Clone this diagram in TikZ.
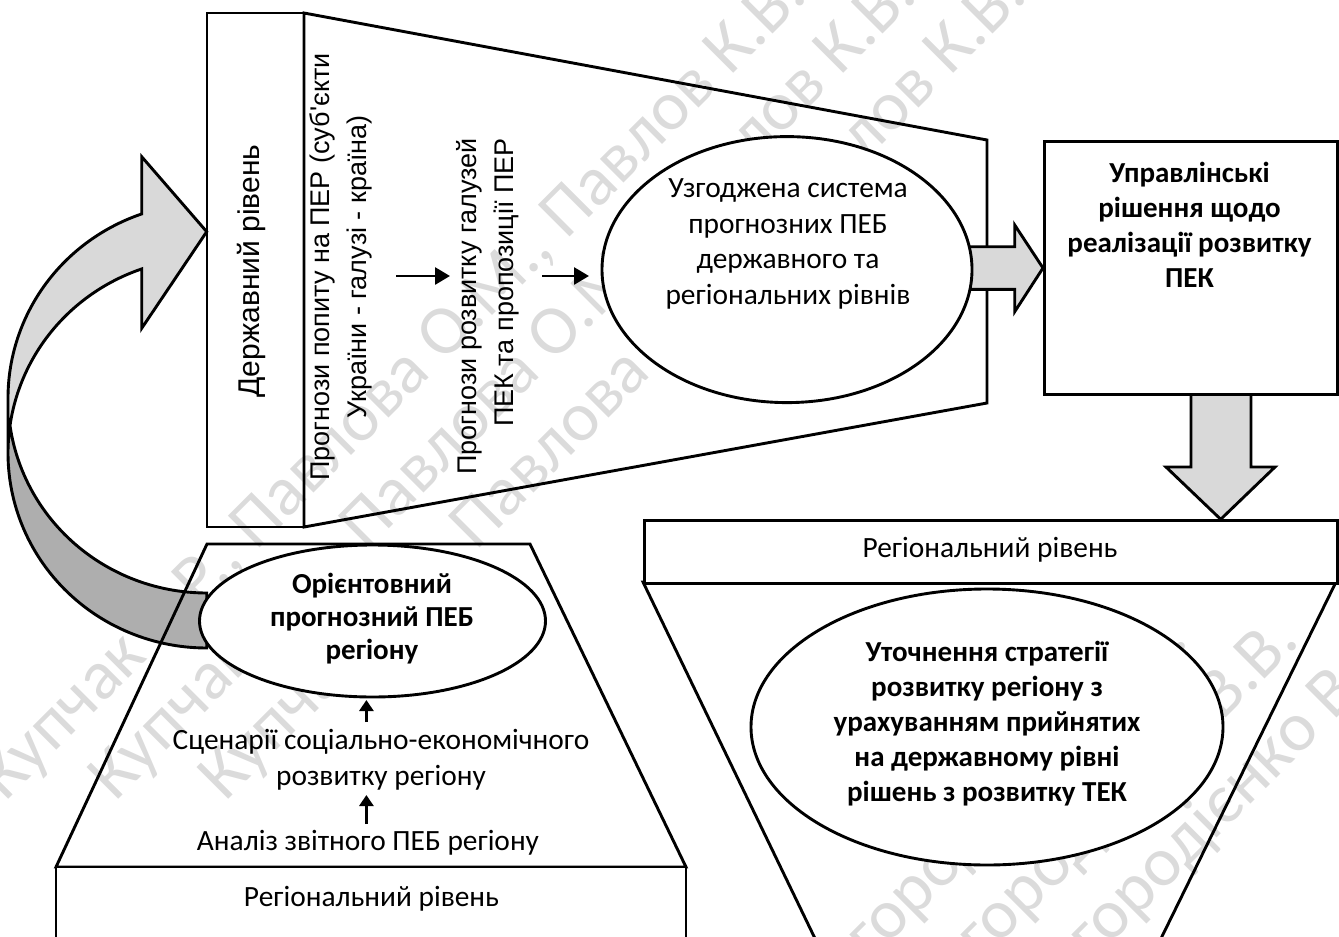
\documentclass[tikz,border=0pt]{standalone}
\usepackage{fontspec}
\setmainfont{Carlito}
\newfontfamily\arialfont{Liberation Sans}
\usetikzlibrary{arrows.meta,shapes.geometric}
\definecolor{lightgrey}{HTML}{D9D9D9}
\definecolor{darkgrey}{HTML}{AEAEAE}
\begin{document}
\begin{tikzpicture}[x=1pt,y=-1pt,
  outline/.style={draw=black,line width=2.9pt,line join=miter},
  blockarrow/.style={outline,fill=lightgrey},
  oval/.style={ellipse,outline,fill=white,inner sep=0pt},
  txt/.style={inner sep=0pt,align=center,font=\fontsize{29.4}{35.5}\selectfont},
  btxt/.style={inner sep=0pt,align=center,font=\fontsize{29}{35}\selectfont\bfseries},
  vtxt/.style={inner sep=0pt,rotate=90,font=\arialfont\fontsize{27}{37}\selectfont},
  flow/.style={line width=2.8pt,-{Triangle[length=15pt,width=17pt]}},
  upflow/.style={line width=2.8pt,-{Triangle[length=11pt,width=14pt]}},
  wmark/.style={rotate=45,inner sep=0pt,text=black,text opacity=0.14,font=\fontsize{70}{70}\selectfont},
]
\useasboundingbox (0,0) rectangle (1339,937);
\fill[white] (0,0) rectangle (1339,937);

% ---------- authors' watermark (background layer) ----------
\node[wmark] (wm1) at (395,388) {Купчак В.Р., Павлова О.М., Павлов К.В.};
\node[wmark] (wm2) at (505,388) {Купчак В.Р., Павлова О.М., Павлов К.В.};
\node[wmark] (wm3) at (615,388) {Купчак В.Р., Павлова О.М., Павлов К.В.};
\node[wmark] (wm4) at (994,813) {Загородієнко В.В.};
\node[wmark] (wm5) at (1105,813) {Загородієнко В.В.};
\node[wmark] (wm6) at (1216,813) {Загородієнко В.В.};

% ---------- state level: bar and funnel ----------
\draw[outline] (304,13) -- (987,140) -- (987,403) -- (304,527) -- cycle;
\draw[outline] (207,13) rectangle (304,527);

% ---------- curved feedback arrow (front face, back face, outline) ----------
\fill[lightgrey]
  plot[domain=180:250.91,samples=60,variable=\t] ({206.7+198.7*cos(\t)},{398.1+194.9*sin(\t)})
  -- (141.7,156.7) -- (206.7,231.7) -- (141.7,328.3)
  -- plot[domain=250.91:180,samples=60,variable=\t] ({206.7+198.7*cos(\t)},{453.1+194.9*sin(\t)})
  -- cycle;
\fill[darkgrey]
  plot[domain=180:90,samples=60,variable=\t] ({206.7+198.7*cos(\t)},{453.1+194.9*sin(\t)})
  -- plot[domain=90:180,samples=60,variable=\t] ({206.7+198.7*cos(\t)},{398.1+194.9*sin(\t)})
  -- cycle;
\draw[outline]
  plot[domain=180:250.91,samples=60,variable=\t] ({206.7+198.7*cos(\t)},{453.1+194.9*sin(\t)})
  -- (141.7,328.3) -- (206.7,231.7) -- (141.7,156.7)
  -- plot[domain=250.91:180,samples=60,variable=\t] ({206.7+198.7*cos(\t)},{398.1+194.9*sin(\t)})
  -- plot[domain=180:90,samples=60,variable=\t] ({206.7+198.7*cos(\t)},{453.1+194.9*sin(\t)})
  -- plot[domain=90:171.9,samples=60,variable=\t] ({206.7+198.7*cos(\t)},{398.1+194.9*sin(\t)});

% ---------- regional level (left): trapezoid, base box, oval ----------
\draw[outline] (207,544) -- (530,544) -- (686,867) -- (56,867) -- cycle;
\draw[outline,fill=white] (56,867) rectangle (686,938.5);
\node[oval,minimum width=346pt,minimum height=152pt] (approx) at (372.5,621) {};

% ---------- right part ----------
\draw[blockarrow] (962,246.7) -- (1014.7,246.7) -- (1014.7,225) -- (1043,268)
  -- (1014.7,311.7) -- (1014.7,289.3) -- (962,289.3) -- cycle;
\node[oval,minimum width=370pt,minimum height=266pt] (agreed) at (787,269.6) {};
\draw[blockarrow] (1191,393) -- (1191,467) -- (1166,467) -- (1220.7,519.3)
  -- (1275,467) -- (1251,467) -- (1251,393);
\node[outline,fill=white,rectangle,inner sep=0pt,minimum width=293pt,minimum height=253pt,anchor=north west] (mgmt) at (1043,140) {};
\draw[outline] (643,582) -- (1336,582) -- (1161,938.5) -- (815,938.5) -- cycle;
\node[outline,fill=white,rectangle,inner sep=0pt,minimum width=693pt,minimum height=62.7pt,anchor=north west] (regtop) at (643,519.3) {};
\node[oval,minimum width=472pt,minimum height=276pt] (refine) at (987,727) {};

% ---------- texts ----------
\node[vtxt,font=\arialfont\fontsize{30}{36}\selectfont] (statelabel) at (251,271) {Державний рівень};
\node[vtxt,align=center] (demand) at (341,267) {Прогнози попиту на ПЕР (суб'єкти\\України - галузі - країна)};
\node[vtxt,align=right,anchor=east] (supply) at (488,138) {Прогнози розвитку галузей\\ПЕК та пропозиції ПЕР};
\node[txt] (agreedtext) at (788,244) {Узгоджена система\\прогнозних ПЕБ\\державного та\\регіональних рівнів};
\node[btxt] (mgmttext) at (1189.5,225) {Управлінські\\рішення щодо\\реалізації розвитку\\ПЕК};
\node[txt] (regtoptext) at (990,550) {Регіональний рівень};
\node[btxt] (refinetext) at (987,724) {Уточнення стратегії\\розвитку регіону з\\урахуванням прийнятих\\на державному рівні\\рішень з розвитку ТЕК};
\node[btxt,font=\fontsize{29}{33}\selectfont\bfseries] (approxtext) at (372,619) {Орієнтовний\\прогнозний ПЕБ\\регіону};
\node[txt] (scen) at (381,759.7) {Сценарії соціально-економічного\\розвитку регіону};
\node[txt] (analysis) at (368,843) {Аналіз звітного ПЕБ регіону};
\node[txt] (regbottext) at (371.5,898.6) {Регіональний рівень};

% ---------- small flow arrows ----------
\coordinate (f1s) at (396,276);   \coordinate (f1e) at (450,276);
\coordinate (f2s) at (542,276);   \coordinate (f2e) at (589,276);
\coordinate (u1s) at (366.4,722); \coordinate (u1e) at (366.4,700);
\coordinate (u2s) at (366.4,824); \coordinate (u2e) at (366.4,795);
\draw[flow] (f1s) -- (f1e);
\draw[flow] (f2s) -- (f2e);
\draw[upflow] (u1s) -- (u1e);
\draw[upflow] (u2s) -- (u2e);
\end{tikzpicture}
\end{document}
